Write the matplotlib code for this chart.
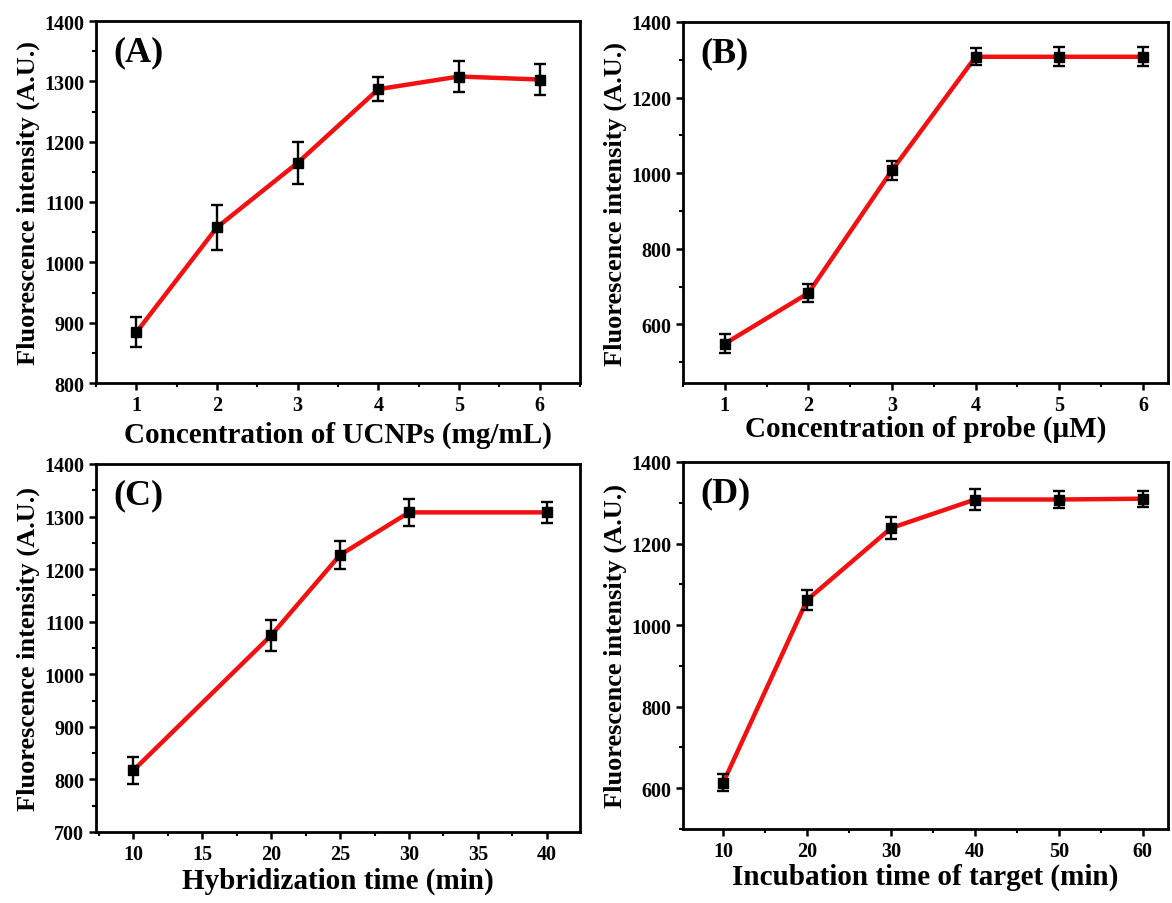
import matplotlib
matplotlib.use("Agg")
import matplotlib.pyplot as plt
from matplotlib.ticker import AutoMinorLocator, MultipleLocator

plt.rcParams['font.family'] = ['Liberation Serif', 'DejaVu Serif']
plt.rcParams['font.weight'] = 'bold'

# (A) UCNPs concentration
ucnp_conc = [1, 2, 3, 4, 5, 6]
ucnp_int = [884, 1058, 1165, 1287, 1308, 1303]
ucnp_err = [25, 37, 35, 20, 25, 25]

# (B) probe concentration
probe_conc = [1, 2, 3, 4, 5, 6]
probe_int = [549, 683, 1008, 1308, 1308, 1308]
probe_err = [25, 25, 25, 23, 25, 25]

# (C) hybridization time
hyb_time = [10, 20, 25, 30, 40]
hyb_int = [817, 1074, 1227, 1308, 1308]
hyb_err = [25, 30, 27, 25, 20]

# (D) incubation time
inc_time = [10, 20, 30, 40, 50, 60]
inc_int = [614, 1062, 1238, 1308, 1308, 1310]
inc_err = [20, 25, 28, 25, 22, 20]

fig = plt.figure(figsize=(11.72, 9.04), dpi=100)

W, H = 1172.0, 904.0
def box(l, t, r, b):
    return [l / W, 1 - b / H, (r - l) / W, (b - t) / H]

panels = [
    (box(96, 22, 580, 384), ucnp_conc, ucnp_int, ucnp_err, '(A)',
     'Concentration of UCNPs (mg/mL)', (0.5, 6.5), (800, 1400), 1, 100, 4),
    (box(683, 23, 1168, 384), probe_conc, probe_int, probe_err, '(B)',
     'Concentration of probe (\u03bcM)', (0.5, 6.3), (445, 1400), 1, 200, 0),
    (box(96, 465, 580, 833), hyb_time, hyb_int, hyb_err, '(C)',
     'Hybridization time (min)', (7.3, 42.4), (700, 1400), 5, 100, 2),
    (box(683, 463, 1168, 830), inc_time, inc_int, inc_err, '(D)',
     'Incubation time of target (min)', (5.2, 63), (500, 1400), 10, 200, 1),
]

for rect, x, y, e, tag, xlabel, xl, yl, xstep, ystep, pad in panels:
    ax = fig.add_axes(rect)
    ax.plot(x, y, color='#f21010', lw=3.2, zorder=2)
    ax.errorbar(x, y, yerr=e, fmt='s', color='black', ms=6.5, ecolor='black',
                elinewidth=1.7, capsize=4, capthick=1.7, zorder=3)
    ax.set_xlim(*xl)
    ax.set_ylim(*yl)
    ax.xaxis.set_major_locator(MultipleLocator(xstep))
    ax.yaxis.set_major_locator(MultipleLocator(ystep))
    ax.xaxis.set_minor_locator(AutoMinorLocator(2))
    ax.yaxis.set_minor_locator(AutoMinorLocator(2))
    ax.tick_params(which='major', direction='out', length=5, width=1.8, labelsize=14.5)
    ax.tick_params(which='minor', direction='out', length=3, width=1.5)
    for s in ax.spines.values():
        s.set_linewidth(2)
    ax.set_xlabel(xlabel, fontsize=21, fontweight='bold', labelpad=pad)
    ax.set_ylabel('Fluorescence intensity (A.U.)', fontsize=19, fontweight='bold', labelpad=3)
    ax.text(0.035, 0.96, tag, transform=ax.transAxes, fontsize=26,
            fontweight='bold', va='top', ha='left')

fig.savefig('out.png', dpi=100)
